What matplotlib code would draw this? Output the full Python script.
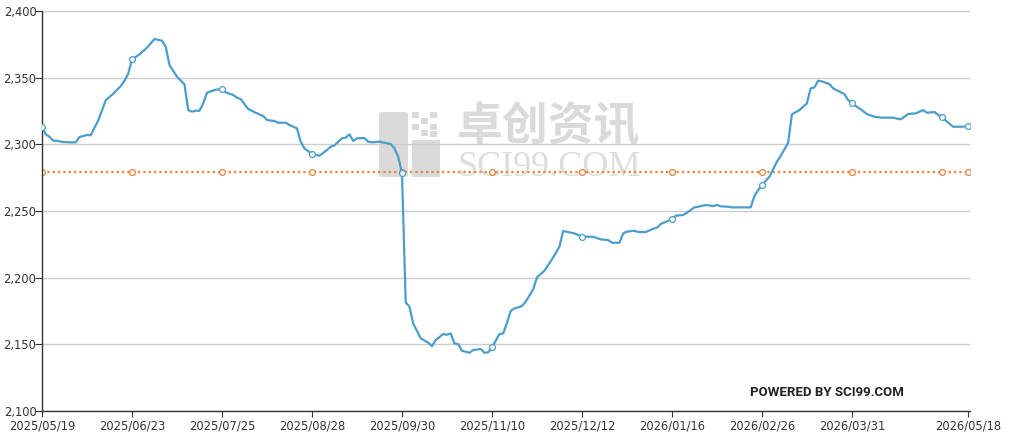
import numpy as np
import matplotlib.pyplot as plt
from matplotlib.patches import Rectangle, FancyBboxPatch

# trading-day index (category axis) and price
day = [0, 1, 2, 3, 4, 5, 7, 9, 10, 12, 13, 15, 17, 19, 21, 22, 23, 24, 26, 28,
       30, 32, 33, 34, 36, 38, 39, 40, 41, 42, 43, 44, 46, 48, 49, 51, 52, 53, 55, 57,
       59, 60, 62, 63, 65, 66, 68, 69, 70, 72, 74, 76, 77, 78, 80, 81, 82, 83, 84, 86,
       87, 88, 90, 93, 94, 95, 96, 97, 98, 99, 101, 103, 104, 105, 107, 108, 109, 110, 111, 112,
       114, 115, 117, 118, 119, 120, 122, 123, 124, 125, 126, 127, 128, 129, 131, 132, 134, 136, 138, 139,
       142, 144, 147, 149, 151, 152, 154, 155, 156, 158, 159, 161, 163, 164, 165, 166, 168, 169, 171, 172,
       174, 175, 177, 179, 180, 181, 183, 184, 189, 190, 191, 192, 194, 196, 197, 199, 200, 202, 204, 205,
       206, 207, 208, 210, 211, 214, 215, 216, 218, 220, 222, 224, 227, 229, 231, 233, 235, 236, 238, 240,
       243, 245, 247]
price = [2313.2, 2307.5, 2305.7, 2302.7, 2302.7, 2302.0, 2301.5, 2301.5, 2305.5, 2307.0,
         2306.8, 2318.0, 2333.0, 2338.0, 2343.7, 2347.7, 2353.0, 2363.7, 2367.5, 2372.5,
         2379.0, 2377.7, 2373.2, 2359.5, 2350.7, 2345.0, 2325.7, 2324.5, 2325.2, 2325.2,
         2330.7, 2338.7, 2340.7, 2341.7, 2339.0, 2337.0, 2335.0, 2334.0, 2326.5, 2323.7,
         2321.2, 2318.2, 2317.5, 2316.2, 2316.2, 2314.5, 2312.0, 2302.0, 2297.0, 2292.7,
         2291.5, 2295.7, 2298.2, 2299.2, 2304.5, 2305.0, 2307.5, 2302.5, 2304.5, 2304.7,
         2302.0, 2301.5, 2302.0, 2300.2, 2297.0, 2290.7, 2278.7, 2181.5, 2178.2, 2165.7,
         2154.5, 2151.2, 2148.7, 2153.2, 2157.7, 2157.2, 2158.2, 2150.7, 2150.2, 2145.2,
         2143.7, 2145.7, 2146.5, 2143.7, 2144.0, 2147.7, 2157.7, 2158.2, 2166.0, 2175.0,
         2177.0, 2177.7, 2178.7, 2182.0, 2191.2, 2200.2, 2205.2, 2213.7, 2223.2, 2235.0,
         2233.2, 2230.7, 2230.7, 2228.7, 2228.2, 2226.2, 2226.2, 2233.2, 2234.5, 2235.2,
         2234.2, 2234.2, 2236.7, 2237.5, 2240.2, 2241.5, 2243.7, 2246.5, 2247.0, 2248.7,
         2252.7, 2253.2, 2254.5, 2253.7, 2254.5, 2253.5, 2253.2, 2252.7, 2252.7, 2261.2,
         2265.7, 2269.5, 2275.7, 2287.0, 2291.2, 2301.2, 2322.5, 2325.7, 2330.7, 2342.0,
         2342.7, 2347.7, 2347.2, 2345.2, 2342.0, 2337.7, 2333.2, 2330.7, 2327.0, 2322.7,
         2320.7, 2320.0, 2320.0, 2318.7, 2322.7, 2323.2, 2325.7, 2323.7, 2324.2, 2320.2,
         2313.2, 2313.2, 2313.5]
avg_price = 2279.0

tick_days = [0, 24, 48, 72, 96, 120, 144, 168, 192, 216, 247]
tick_labels = ['2025/05/19', '2025/06/23', '2025/07/25', '2025/08/28', '2025/09/30',
               '2025/11/10', '2025/12/12', '2026/01/16', '2026/02/26', '2026/03/31',
               '2026/05/18']
marker_days = [0, 24, 48, 72, 96, 120, 144, 168, 192, 216, 240, 247]

blue = '#4b9ecb'
orange = '#e8823c'

fig = plt.figure(figsize=(10.12, 4.34), dpi=100)
ax = fig.add_axes([42 / 1012, 1 - 411 / 434, 928 / 1012, 400 / 434])
ax.set_zorder(2)
ax.patch.set_alpha(0)

# watermark (behind the axes)
wm = '#dadada'
fig.patches.append(FancyBboxPatch((379 / 1012, 1 - 177 / 434), 29 / 1012, 65 / 434,
                                  boxstyle='round,pad=0,rounding_size=0.004',
                                  transform=fig.transFigure, fc=wm, ec='none', zorder=0))
fig.patches.append(Rectangle((412 / 1012, 1 - 177 / 434), 28 / 1012, 37 / 434,
                             transform=fig.transFigure, fc=wm, ec='none', zorder=0))
for cx, cy in [(412, 112), (430, 112), (421, 118), (412, 124), (430, 124), (421, 130), (430, 131)]:
    fig.patches.append(Rectangle((cx / 1012, 1 - (cy + 6) / 434), 7 / 1012, 6 / 434,
                                 transform=fig.transFigure, fc=wm, ec='none', zorder=0))
fig.text(549 / 1012, 1 - 128 / 434, '卓创资讯', family=['Noto Sans CJK SC', 'DejaVu Sans'],
         fontsize=33, fontweight='bold', color=wm, ha='center', va='center', zorder=0)
fig.text(549 / 1012, 1 - 167 / 434, 'SCI99.COM', family='Liberation Serif',
         fontsize=26, color='#dddddd', ha='center', va='center', zorder=0)

ax.plot(day, price, color=blue, lw=1.6, zorder=3)
mk = [day.index(d) for d in marker_days]
ax.plot(np.array(day)[mk], np.array(price)[mk], ls='none', marker='o', ms=4.2,
        mfc='white', mec=blue, mew=0.9, zorder=4)

avg = [avg_price] * len(marker_days)
ax.plot([0, 247], [avg_price, avg_price], color=orange, lw=1.6, ls=(0, (1, 1.4)), zorder=2)
ax.plot(marker_days, avg, ls='none', marker='o', ms=4.2, mfc='white', mec=orange,
        mew=0.9, zorder=2)

ax.set_xlim(0, 247.5)
ax.set_ylim(2100, 2400)
ax.set_yticks([2100, 2150, 2200, 2250, 2300, 2350, 2400])
ax.set_yticklabels(['2,100', '2,150', '2,200', '2,250', '2,300', '2,350', '2,400'])
ax.set_xticks(tick_days)
ax.set_xticklabels(tick_labels)
ax.grid(axis='y', color='#cccccc', lw=1)
ax.set_axisbelow(True)
for s in ['top', 'right']:
    ax.spines[s].set_visible(False)
for s in ['left', 'bottom']:
    ax.spines[s].set_color('#333333')
    ax.spines[s].set_linewidth(1)
ax.tick_params(axis='y', length=5, pad=-1, labelsize=8.3, colors='#333333', direction='out')
ax.tick_params(axis='x', length=4, pad=2, labelsize=8.3, colors='#333333')

fig.text(827 / 1012, 1 - 393 / 434, 'POWERED BY SCI99.COM',
         family=['Liberation Sans Narrow', 'Roboto'], fontweight='bold',
         fontsize=9.5, color='#222222', ha='center', va='center')

fig.savefig('out.png', dpi=100)
